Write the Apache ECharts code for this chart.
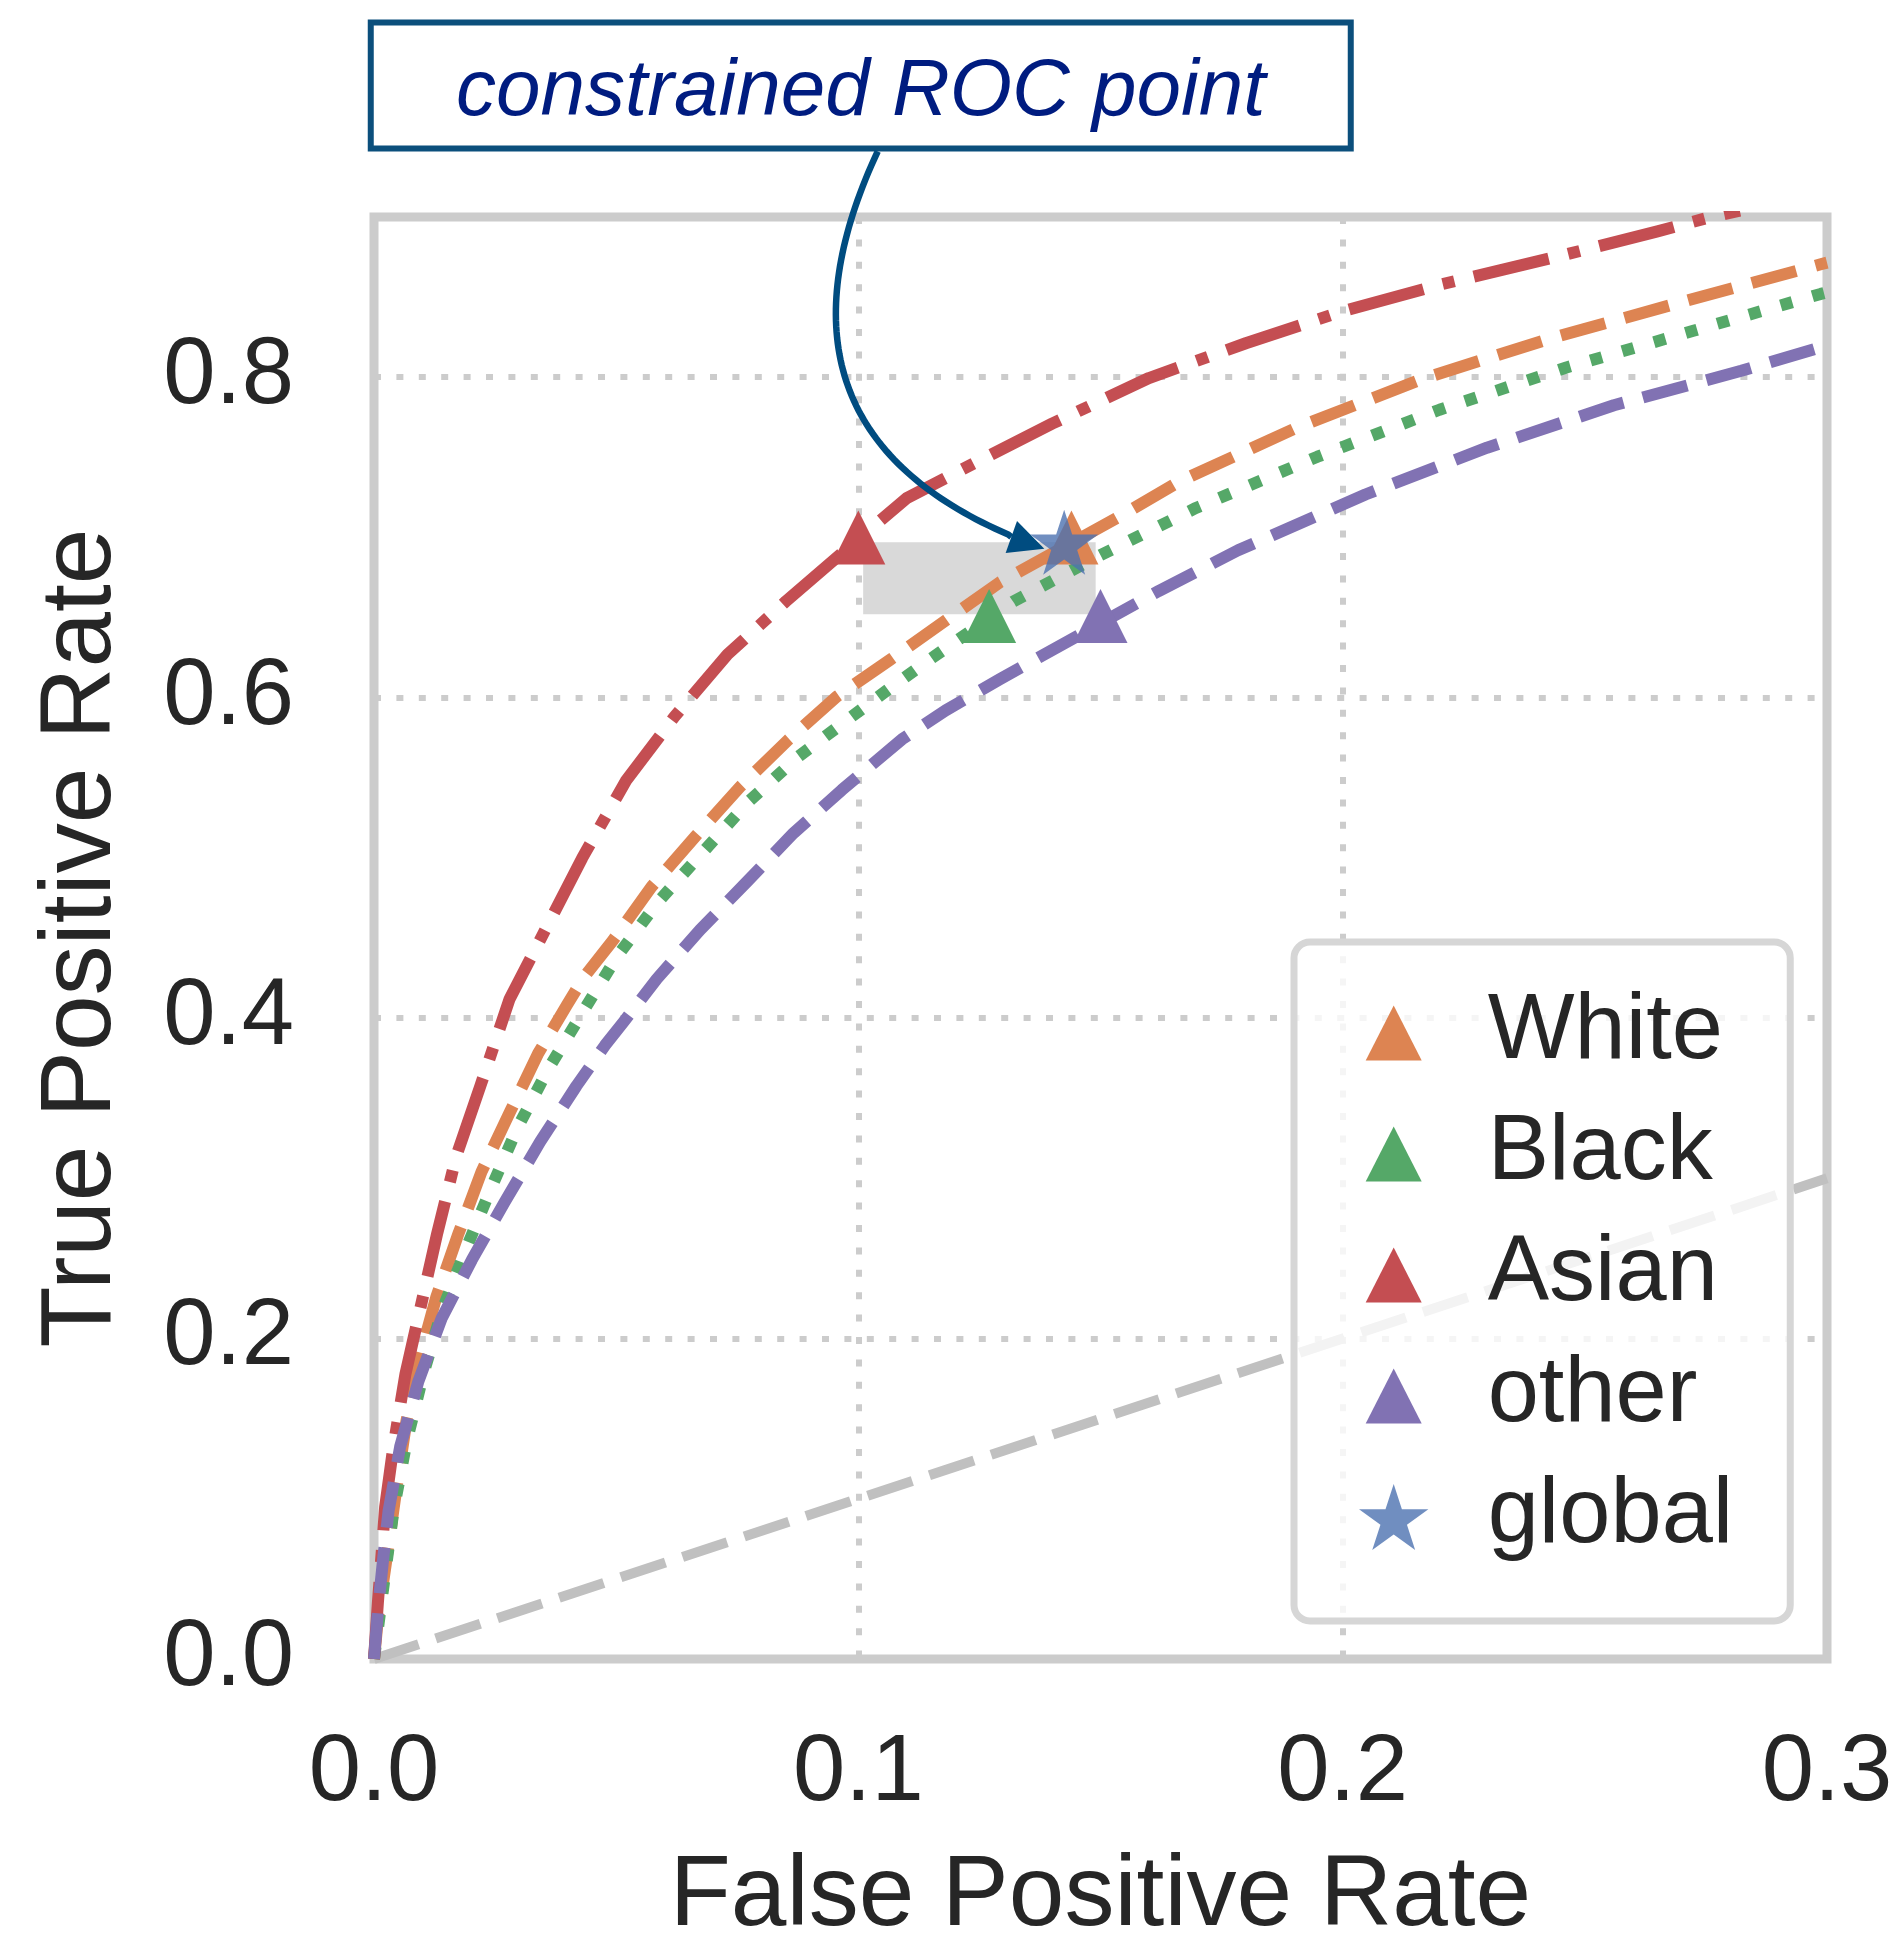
<!DOCTYPE html>
<html>
<head>
<meta charset="utf-8">
<script src="https://cdn.jsdelivr.net/npm/echarts@6/dist/echarts.min.js"></script>
<style>
  html, body { margin: 0; padding: 0; background: #fff; }
  #main { width: 1896px; height: 1939px; }
</style>
</head>
<body>
<div id="main"></div>
<script>
// ROC curves per group, [fpr, tpr]
const whiteRoc = [[0,0],[0.0008,0.025],[0.0026,0.0628],[0.0047,0.108],[0.0067,0.1486],[0.0095,0.1888],[0.0129,0.2263],[0.0174,0.2652],[0.0222,0.3041],[0.0281,0.3416],[0.0339,0.378],[0.0398,0.408],[0.0432,0.425],[0.0494,0.4488],[0.0573,0.482],[0.0663,0.5132],[0.0756,0.5444],[0.0855,0.5736],[0.0955,0.6006],[0.1065,0.6235],[0.1182,0.6485],[0.1292,0.672],[0.1443,0.697],[0.1533,0.712],[0.1664,0.7351],[0.1905,0.7685],[0.2167,0.7992],[0.2429,0.8242],[0.2713,0.848],[0.2987,0.8705],[0.3,0.8715]];
const blackRoc = [[0,0],[0.0015,0.035],[0.004,0.0922],[0.0067,0.1352],[0.0102,0.178],[0.014,0.2169],[0.0188,0.2545],[0.0241,0.2933],[0.0296,0.3314],[0.036,0.3684],[0.0432,0.4043],[0.0504,0.4394],[0.0587,0.4727],[0.068,0.5039],[0.0773,0.535],[0.0876,0.5632],[0.0986,0.5881],[0.107,0.607],[0.1151,0.6246],[0.132,0.66],[0.15,0.689],[0.1697,0.7184],[0.1948,0.7504],[0.22,0.7797],[0.2462,0.8061],[0.2724,0.829],[0.2987,0.852],[0.3,0.853]];
const asianRoc = [[0,0],[0.0008,0.035],[0.0023,0.095],[0.004,0.1325],[0.0065,0.178],[0.0095,0.218],[0.013,0.265],[0.017,0.314],[0.022,0.358],[0.028,0.412],[0.035,0.453],[0.043,0.5],[0.052,0.548],[0.062,0.588],[0.073,0.627],[0.085,0.66],[0.1,0.699],[0.11,0.7245],[0.125,0.748],[0.14,0.771],[0.16,0.7995],[0.18,0.8212],[0.2,0.8412],[0.22,0.8577],[0.245,0.8758],[0.265,0.891],[0.276,0.9],[0.282,0.904]];
const otherRoc = [[0,0],[0.0008,0.03],[0.0019,0.0628],[0.003,0.0922],[0.0054,0.1325],[0.0091,0.1727],[0.014,0.2129],[0.0202,0.2491],[0.027,0.2853],[0.0343,0.3228],[0.0418,0.3577],[0.0477,0.383],[0.0515,0.3975],[0.0584,0.4245],[0.0673,0.455],[0.077,0.4851],[0.0866,0.5154],[0.0966,0.5424],[0.109,0.574],[0.118,0.592],[0.1292,0.6115],[0.1435,0.6355],[0.15,0.6465],[0.162,0.6665],[0.1784,0.692],[0.2047,0.7268],[0.2298,0.756],[0.256,0.7825],[0.2823,0.804],[0.2987,0.8187],[0.3,0.8195]];
const chanceLine = [[0,0],[0.3,0.3]];

// operating points
const groupNames = ['White', 'Black', 'Asian', 'other'];
const groupFpr = [0.144, 0.127, 0.1, 0.15];
const groupTpr = [0.70, 0.651, 0.70, 0.651];
const globalPoint = [0.1425, 0.697];

// shaded constraint band
const bandFpr = [0.101, 0.149];
const bandTpr = [0.652, 0.697];

// annotation
const noteText = 'constrained ROC point';
const noteAnchor = [0.1005, 0.982];
const arrowStart = [0.104, 0.941];
const arrowEnd = [0.1384, 0.693];
const arrowRad = 0.55;

const xTicks = [0, 0.1, 0.2, 0.3];
const yTicks = [0, 0.2, 0.4, 0.6, 0.8];

const FONT = 'Liberation Sans, Arial, Helvetica, sans-serif';
const TEXT = '#262626';
const groupColors = ['#DD8452', '#55A868', '#C44E52', '#8172B3'];
const groupDash = [[46, 20], [12, 21], [77, 20, 12, 20], [46, 20]];
const groupRocs = [whiteRoc, blackRoc, asianRoc, otherRoc];

function starPath() {
  const pts = [];
  for (let k = 0; k < 10; k++) {
    const a = -Math.PI / 2 + k * Math.PI / 5;
    const r = k % 2 ? 38.2 : 100;
    pts.push((100 + r * Math.cos(a)).toFixed(2) + ',' + (100 + r * Math.sin(a)).toFixed(2));
  }
  return 'path://M' + pts.join(' L') + ' Z';
}
const STAR = starPath();
// triangle inside a padded 66x66 box so legend icons match the star size
const LEGEND_TRI = 'path://M0,0 M66,66 M5,60.5 L33,5.5 L61,60.5 Z';

var chart = echarts.init(document.getElementById('main'));

const lineSeries = groupRocs.map((roc, i) => ({
  type: 'line',
  name: groupNames[i] + ' ROC',
  data: roc,
  showSymbol: false,
  symbol: 'none',
  smooth: false,
  silent: true,
  z: 2,
  lineStyle: { color: groupColors[i], width: 12, type: groupDash[i], cap: 'butt', join: 'round' }
}));

const pointSeries = groupNames.map((name, i) => ({
  type: 'scatter',
  name: name,
  data: [[groupFpr[i], groupTpr[i]]],
  symbol: 'triangle',
  symbolSize: 54,
  silent: true,
  z: 3,
  itemStyle: { color: groupColors[i], opacity: 1 }
}));

chart.setOption({
  animation: false,
  backgroundColor: '#ffffff',
  grid: {
    left: 374, top: 217, width: 1453, height: 1442,
    show: true, borderColor: '#cccccc', borderWidth: 9,
    backgroundColor: 'transparent',
    outerBoundsMode: 'none'
  },
  xAxis: {
    type: 'value', min: 0, max: 0.3, interval: 0.1,
    name: 'False Positive Rate', nameLocation: 'middle', nameGap: 188,
    nameMoveOverlap: false,
    nameTextStyle: { fontSize: 100, color: TEXT, fontFamily: FONT },
    axisLine: { show: false }, axisTick: { show: false },
    axisLabel: {
      margin: 68, fontSize: 94, color: TEXT, fontFamily: FONT,
      formatter: v => xTicks.some(t => Math.abs(t - v) < 1e-6) ? v.toFixed(1) : ''
    },
    splitLine: {
      show: true, showMinLine: false, showMaxLine: false,
      lineStyle: { color: '#cccccc', width: 6, type: [7, 15.4] }
    }
  },
  yAxis: {
    type: 'value', min: 0, max: 0.9, interval: 0.2,
    name: 'True Positive Rate', nameLocation: 'middle', nameGap: 242,
    nameMoveOverlap: false,
    nameTextStyle: { fontSize: 100, color: TEXT, fontFamily: FONT },
    axisLine: { show: false }, axisTick: { show: false },
    axisLabel: {
      margin: 80, fontSize: 94, color: TEXT, fontFamily: FONT,
      formatter: v => yTicks.some(t => Math.abs(t - v) < 1e-6) ? v.toFixed(1) : ''
    },
    splitLine: {
      show: true, showMinLine: false, showMaxLine: false,
      lineStyle: { color: '#cccccc', width: 6, type: [7, 15.4] }
    }
  },
  legend: {
    orient: 'vertical',
    left: 1294, top: 942,
    padding: [36, 57, 49, 65],
    itemWidth: 178, itemHeight: 66, itemGap: 11,
    backgroundColor: 'rgba(255,255,255,0.8)',
    borderColor: '#d6d6d6', borderWidth: 7, borderRadius: 16,
    selectedMode: false,
    z: 10,
    textStyle: { fontSize: 92, color: TEXT, fontFamily: FONT, lineHeight: 100, padding: [10, 0, 0, 0] },
    data: groupNames.map(n => ({ name: n, icon: LEGEND_TRI })).concat([{ name: 'global', icon: STAR }])
  },
  series: [
    {
      type: 'line',
      name: 'chance',
      data: chanceLine,
      showSymbol: false,
      symbol: 'none',
      silent: true,
      z: 2,
      lineStyle: { color: '#c0c0c0', width: 10, type: [47, 18], cap: 'butt' },
      markArea: {
        silent: true,
        itemStyle: { color: '#d9d9d9' },
        data: [[{ coord: [bandFpr[0], bandTpr[1]] }, { coord: [bandFpr[1], bandTpr[0]] }]]
      }
    },
    ...lineSeries,
    ...pointSeries,
    {
      type: 'scatter',
      name: 'global',
      data: [globalPoint],
      symbol: STAR,
      symbolSize: [68, 65],
      silent: true,
      z: 4,
      itemStyle: { color: 'rgba(76,114,176,0.8)', opacity: 1 }
    }
  ]
});

// annotation box and curved arrow, placed through the axes
const toPx = p => chart.convertToPixel({ gridIndex: 0 }, p);
const A = toPx(noteAnchor);
const S = toPx(arrowStart);
const E = toPx(arrowEnd);
const dx = E[0] - S[0], dy = E[1] - S[1];
const C = [(S[0] + E[0]) / 2 - arrowRad * dy, (S[1] + E[1]) / 2 + arrowRad * dx];
const bez = t => [
  (1 - t) * (1 - t) * S[0] + 2 * t * (1 - t) * C[0] + t * t * E[0],
  (1 - t) * (1 - t) * S[1] + 2 * t * (1 - t) * C[1] + t * t * E[1]
];
const headLen = 35, headHalf = 17;
const arrowPts = [];
for (let i = 0; i <= 80; i++) {
  const p = bez(i / 80);
  if (Math.hypot(p[0] - E[0], p[1] - E[1]) < headLen) break;
  arrowPts.push(p);
}
const tl = Math.hypot(E[0] - C[0], E[1] - C[1]);
const dir = [(E[0] - C[0]) / tl, (E[1] - C[1]) / tl];
const base = [E[0] - dir[0] * headLen, E[1] - dir[1] * headLen];
arrowPts.push(base);
const perp = [-dir[1], dir[0]];

chart.setOption({
  graphic: [
    {
      type: 'rect', z: 100, silent: true,
      shape: { x: A[0] - 490, y: A[1] - 63, width: 980, height: 126 },
      style: { fill: '#ffffff', stroke: '#0b4f7c', lineWidth: 6 }
    },
    {
      type: 'text', z: 101, silent: true,
      x: A[0], y: A[1] + 7,
      style: {
        text: noteText, fontSize: 80, fontStyle: 'italic', fontFamily: FONT,
        fill: '#001c80', align: 'center', verticalAlign: 'middle'
      }
    },
    {
      type: 'polyline', z: 100, silent: true,
      shape: { points: arrowPts },
      style: { stroke: '#004c80', lineWidth: 6.5, fill: null }
    },
    {
      type: 'polygon', z: 100, silent: true,
      shape: {
        points: [
          E,
          [base[0] + perp[0] * headHalf, base[1] + perp[1] * headHalf],
          [base[0] - perp[0] * headHalf, base[1] - perp[1] * headHalf]
        ]
      },
      style: { fill: '#004c80' }
    }
  ]
});
</script>
</body>
</html>
